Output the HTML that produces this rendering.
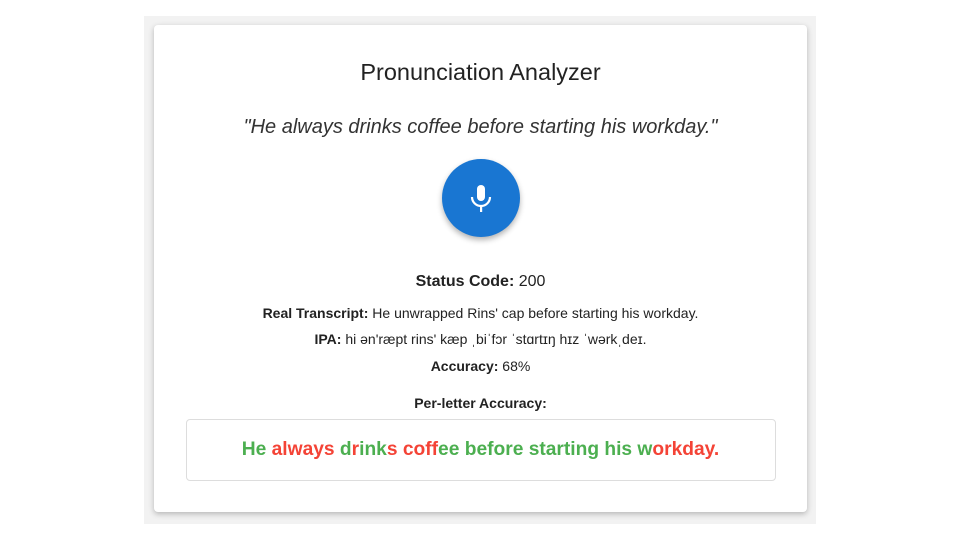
<!DOCTYPE html>
<html><head><meta charset="utf-8"><style>
body{margin:0;width:960px;height:540px;background:#fff;font-family:"Liberation Sans",sans-serif;color:#222;position:relative;overflow:hidden}
.bg{position:absolute;left:144px;top:16px;width:672px;height:508px;background:#f2f2f2}
.card{position:absolute;left:154px;top:25px;width:653px;height:487px;background:#fff;border-radius:4px;box-shadow:0 2px 6px rgba(0,0,0,.25)}
.t{position:absolute;left:0;width:100%;text-align:center;white-space:nowrap}
.g{color:#4caf50}.r{color:#f44336}
</style></head><body>
<div class="bg"></div>
<div class="card">
<div class="t" style="top:34px;font-size:23.5px;color:#222">Pronunciation Analyzer</div>
<div class="t" style="top:91px;font-size:20px;font-style:italic;color:#333">"He always drinks coffee before starting his workday."</div>
<div style="position:absolute;left:288px;top:134px;width:78px;height:78px;border-radius:50%;background:#1976d2;box-shadow:0 3px 6px rgba(0,0,0,.3)">
<svg width="78" height="78" viewBox="0 0 78 78"><rect x="35" y="26" width="8" height="16" rx="4" fill="#fff"/><path d="M30 38a9 9 0 0 0 18 0" stroke="#fff" stroke-width="2.2" fill="none"/><rect x="38" y="47" width="2.2" height="6" fill="#fff"/></svg></div>
<div class="t" style="top:248px;font-size:16px"><b>Status Code:</b> 200</div>
<div class="t" style="top:280px;font-size:14px"><b>Real Transcript:</b> He unwrapped Rins' cap before starting his workday.</div>
<div class="t" style="top:306px;font-size:14px"><b>IPA:</b> hi ən'ræpt rins' kæp ˌbiˈfɔr ˈstɑrtɪŋ hɪz ˈwərkˌdeɪ.</div>
<div class="t" style="top:333px;font-size:14px"><b>Accuracy:</b> 68%</div>
<div class="t" style="top:370px;font-size:14px;font-weight:bold">Per-letter Accuracy:</div>
<div style="position:absolute;left:32px;top:394px;width:588px;height:60px;border:1px solid #ddd;border-radius:4px"></div>
<div class="t" style="top:414px;font-size:19.2px;font-weight:bold"><span class="g">He </span><span class="r">always </span><span class="g">d</span><span class="r">r</span><span class="g">ink</span><span class="r">s coff</span><span class="g">ee before starting his w</span><span class="r">orkday.</span></div>
</div>
</body></html>
